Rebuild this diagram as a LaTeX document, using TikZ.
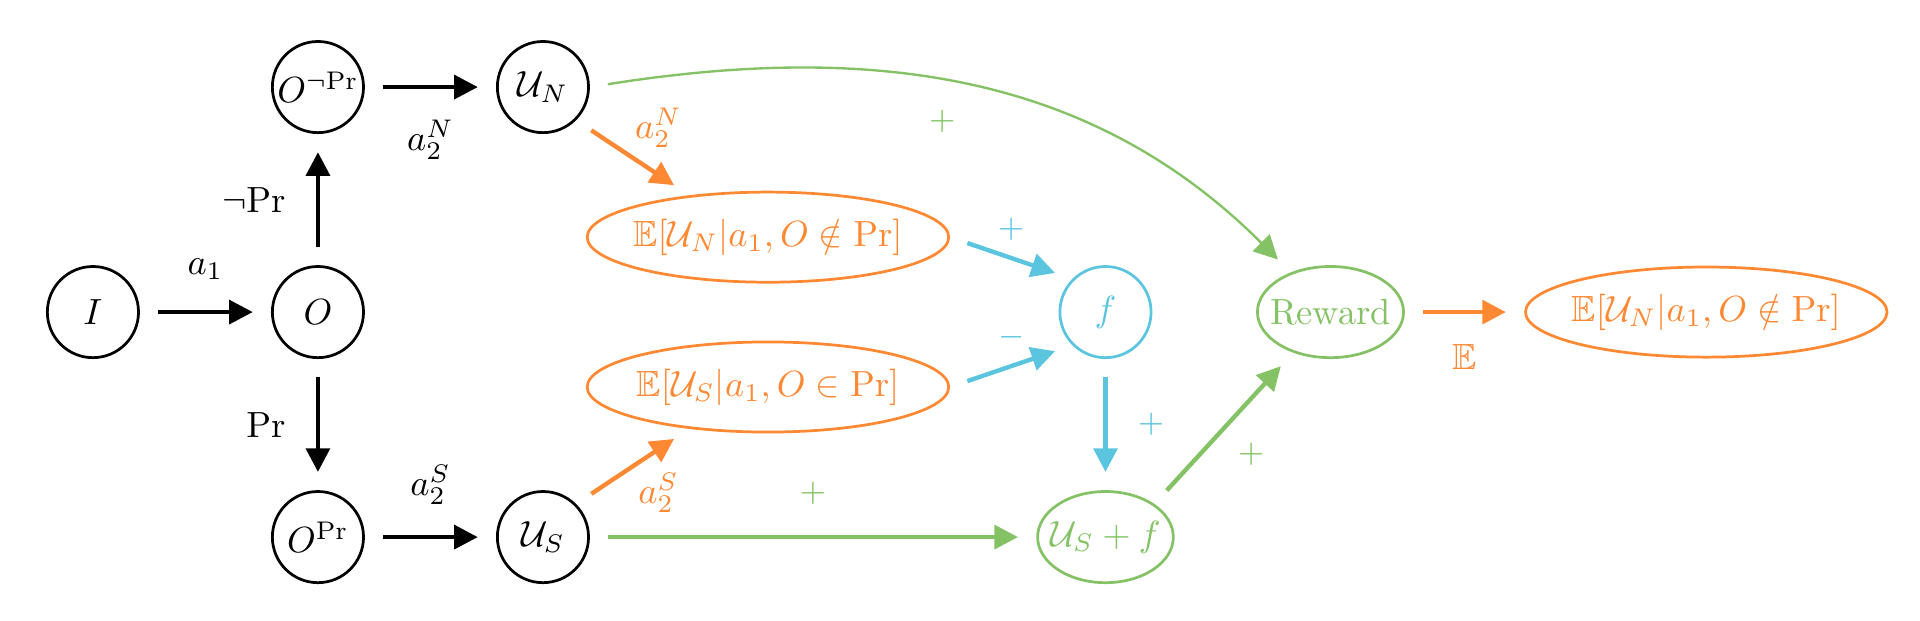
\documentclass[tikz,border=0pt]{standalone}
\usepackage{amsmath,amssymb}
\usepackage{xcolor}
\definecolor{estorange}{HTML}{FF8833}
\definecolor{rwdgreen}{HTML}{84C265}
\definecolor{fblue}{HTML}{5BC5E0}
\usetikzlibrary{shapes.geometric,arrows.meta,positioning}

\begin{document}
\begin{tikzpicture}[
  x=2.172cm, y=2.172cm,
  obs/.style={
    circle, draw, line width=0.75pt,
    minimum size=0.88cm, inner sep=0pt
  },
  est/.style={
    ellipse, draw=estorange, text=estorange, line width=0.75pt,
    minimum width=3.49cm, minimum height=0.87cm, inner xsep=-6pt, inner ysep=0pt
  },
  rwd/.style={
    ellipse, draw=rwdgreen, text=rwdgreen, line width=0.75pt,
    minimum height=0.88cm, inner xsep=-6pt, inner ysep=0pt
  },
  fnode/.style={
    circle, draw=fblue, text=fblue, line width=0.75pt,
    minimum size=0.88cm, inner sep=0pt
  },
  arr/.style={-{Triangle[length=6.5pt,width=6.5pt]}, line width=1.2pt, shorten <=5pt, shorten >=5pt},
  oarr/.style={arr, estorange},
  garr/.style={arr, rwdgreen},
  barr/.style={arr, fblue},
  sgn/.style={font=\small}
]
\useasboundingbox (-0.413,-1.369) rectangle (8.12,1.387);

% observation tree
\node[obs] (I) at (0,0) {$I$};
\node[obs] (O) at (1,0) {$O$};
\node[obs] (Onp) at (1,1) {$O^{\neg\mathrm{Pr}}$};
\node[obs] (Op) at (1,-1) {$O^{\mathrm{Pr}}$};
\node[obs] (UN) at (2,1) {$\mathcal{U}_N$};
\node[obs] (US) at (2,-1) {$\mathcal{U}_S$};

\draw[arr] (I) -- node[above=5pt] {$a_1$} (O);
\draw[arr] (O) -- node[left=5pt] {$\neg\mathrm{Pr}$} (Onp);
\draw[arr] (O) -- node[left=5pt] {$\mathrm{Pr}$} (Op);
\draw[arr] (Onp) -- node[below=5pt] {$a_2^N$} (UN);
\draw[arr] (Op) -- node[above=5pt] {$a_2^S$} (US);

% estimates
\node[est] (EN) at (3,0.333) {$\mathbb{E}[\mathcal{U}_N|a_1,O\notin\mathrm{Pr}]$};
\node[est] (ES) at (3,-0.333) {$\mathbb{E}[\mathcal{U}_S|a_1,O\in\mathrm{Pr}]$};
\node[fnode] (f) at (4.5,0) {$f$};
\node[rwd, minimum width=1.31cm] (USf) at (4.5,-1) {$\mathcal{U}_S+f$};
\node[rwd, minimum width=1.41cm] (rew) at (5.5,0) {Reward};
\node[est] (ENR) at (7.17,0) {$\mathbb{E}[\mathcal{U}_N|a_1,O\notin\mathrm{Pr}]$};

\draw[oarr] (UN.south east) -- node[pos=0.6, above=1pt, xshift=4pt] {$a_2^N$} (EN.152);
\draw[oarr] (US.north east) -- node[pos=0.6, below=0pt, xshift=4pt] {$a_2^S$} (ES.208);
\draw[barr] (EN.east) -- node[above=1pt, sgn] {$+$} (f.north west);
\draw[barr] (ES.east) -- node[above=1pt, sgn] {$-$} (f.south west);
\draw[barr] (f) -- node[right=5pt, sgn] {$+$} (USf);
\draw[garr] (US) -- node[above=5pt, sgn] {$+$} (USf);
\draw[garr] (USf.north east) -- node[below right, sgn] {$+$} (rew);
\draw[garr, line width=0.65pt] (UN.east) to[out=9, in=135] node[pos=0.46, below=4pt, sgn] {$+$} (rew);
\draw[oarr] (rew) -- node[below=5pt] {$\mathbb{E}$} (ENR);

\end{tikzpicture}
\end{document}
